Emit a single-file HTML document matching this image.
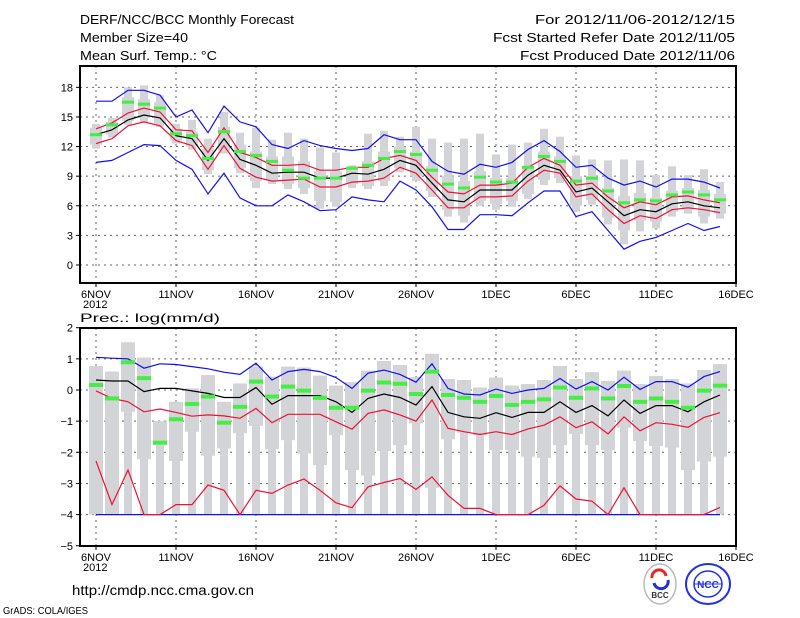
<!DOCTYPE html>
<html><head><meta charset="utf-8"><style>
html,body{margin:0;padding:0;background:#fff;}
svg{display:block;font-family:"Liberation Sans",sans-serif;}
</style></head><body>
<svg id="chart" width="800" height="618" viewBox="0 0 800 618" xmlns="http://www.w3.org/2000/svg">
<rect width="800" height="618" fill="#fff"/>
<g font-size="13" fill="#000">
<text x="80" y="24" textLength="214" lengthAdjust="spacingAndGlyphs">DERF/NCC/BCC Monthly Forecast</text>
<text x="80" y="42" textLength="108" lengthAdjust="spacingAndGlyphs">Member Size=40</text>
<text x="80" y="60" textLength="137" lengthAdjust="spacingAndGlyphs">Mean Surf. Temp.: °C</text>
<text x="535" y="24" textLength="200" lengthAdjust="spacingAndGlyphs">For 2012/11/06-2012/12/15</text>
<text x="493" y="42" textLength="242" lengthAdjust="spacingAndGlyphs">Fcst Started Refer Date 2012/11/05</text>
<text x="520" y="60" textLength="215" lengthAdjust="spacingAndGlyphs">Fcst Produced Date 2012/11/06</text>
<text x="80" y="322" font-size="12" textLength="140" lengthAdjust="spacingAndGlyphs">Prec.: log(mm/d)</text>
<text x="72" y="595" font-size="14" textLength="182" lengthAdjust="spacingAndGlyphs">http://cmdp.ncc.cma.gov.cn</text>
<text x="3" y="614" font-size="10" textLength="85" lengthAdjust="spacingAndGlyphs">GrADS: COLA/IGES</text>
</g>
<g id="top"></g>
<g id="bot"></g>
<g>
<ellipse cx="660" cy="584" rx="16" ry="20" fill="#fff" stroke="#bbb" stroke-width="1.5"/>
<path d="M652 578 a7 7 0 0 1 14 -2" fill="none" stroke="#e22" stroke-width="3"/>
<path d="M668 580 a7 7 0 0 1 -14 3" fill="none" stroke="#23c" stroke-width="3"/>
<text x="660" y="598" font-size="8" text-anchor="middle" font-weight="bold" fill="#333">BCC</text>
</g>
<g>
<ellipse cx="708" cy="584" rx="22" ry="20" fill="#fff" stroke="#23d" stroke-width="2"/>
<ellipse cx="708" cy="584" rx="14" ry="13" fill="none" stroke="#23d" stroke-width="1.5"/>
<line x1="694" y1="584" x2="722" y2="584" stroke="#23d"/>
<text x="708" y="588" font-size="10" text-anchor="middle" font-weight="bold" fill="#23d">NCC</text>
</g>
</svg>
<script>
// ---- Temperature panel data (°C) ----
const dayLabels = ["6NOV","11NOV","16NOV","21NOV","26NOV","1DEC","6DEC","11DEC","16DEC"];
const tTicks = [0,3,6,9,12,15,18];
const pTicks = [2,1,0,-1,-2,-3,-4,-5];
const tMean = [13.2,13.7,14.7,15.2,14.9,13.1,12.8,10.6,12.8,10.7,10.1,9.3,9.4,9.4,8.8,8.8,9.3,9.2,9.7,10.6,10.1,8.3,6.6,6.4,7.6,7.6,7.6,9.1,10.1,9.6,7.4,7.8,6.4,5.0,5.6,5.4,6.2,6.4,6.0,5.8];
const tRedHi = [13.8,14.4,15.4,15.9,15.5,13.7,13.6,11.4,13.9,11.4,10.9,10.1,10.1,10.2,9.6,9.6,9.9,9.9,10.8,11.1,10.6,8.9,7.4,7.2,8.1,8.1,8.3,9.9,10.8,10.1,8.1,8.3,6.9,5.8,6.4,6.1,6.9,7.0,6.6,6.3];
const tRedLo = [12.3,12.8,14.1,14.5,14.1,12.6,12.1,9.7,12.1,9.8,8.9,8.5,8.6,8.7,7.9,7.9,8.4,8.5,8.8,9.9,9.3,7.6,5.8,5.8,6.9,6.9,7.0,8.5,9.6,9.3,6.9,7.2,5.6,4.2,5.0,4.7,5.6,5.8,5.6,5.3];
const tBlueHi = [16.6,16.6,17.7,17.7,17.2,15.0,15.7,13.4,16.1,14.5,14.0,12.2,11.8,12.6,12.1,11.8,11.6,11.8,13.2,12.7,12.7,10.5,9.5,9.2,10.2,9.9,10.4,11.7,12.6,11.5,9.9,10.1,8.8,8.1,8.5,7.9,8.7,8.7,8.4,7.8];
const tBlueLo = [10.4,10.6,11.4,12.2,12.1,10.6,9.7,7.2,9.3,6.8,6.0,6.0,7.1,6.4,5.5,5.6,6.9,6.6,6.4,8.5,7.6,5.9,3.6,3.6,5.1,5.1,5.0,6.3,7.5,7.5,4.9,5.4,3.5,1.6,2.4,2.8,3.5,4.2,3.5,3.9];
const tGreen = [13.2,14.2,16.5,16.3,15.9,13.3,13.1,10.8,13.5,11.5,11.1,10.5,9.6,8.8,8.8,8.8,9.8,10.1,10.8,11.5,11.2,9.6,8.2,7.8,8.9,8.4,8.4,9.9,11.0,10.5,8.5,8.8,7.5,6.3,6.6,6.5,7.1,7.4,7.1,6.6];
const tWhiskHi = [14.3,14.9,18.0,18.2,17.2,14.3,14.7,12.8,15.5,13.4,13.9,12.7,13.4,12.8,11.9,11.4,10.1,13.3,13.6,13.0,14.0,12.8,12.4,12.8,13.3,11.2,12.2,12.4,13.8,13.0,11.1,10.7,10.6,10.7,10.6,9.1,10.0,9.1,9.7,8.4];
const tWhiskLo = [11.8,12.9,14.2,14.5,14.0,12.3,11.7,9.2,11.3,9.3,7.8,8.2,7.7,7.2,5.7,5.9,7.8,7.7,8.0,9.4,8.5,6.9,4.9,4.3,6.0,5.6,5.9,6.7,8.1,8.3,5.4,6.1,4.1,2.1,3.4,3.7,4.9,5.2,4.2,4.7];
const tBoxHi = [13.9,14.5,17.0,16.8,16.5,13.8,13.5,11.8,14.0,12.2,11.5,11.0,11.0,10.5,9.5,9.5,9.9,10.5,11.5,12.0,11.5,10.0,9.0,8.5,9.5,8.8,8.8,10.0,11.5,11.0,9.0,9.0,7.8,7.0,7.3,6.8,7.5,7.8,7.6,7.2];
const tBoxLo = [12.2,13.2,14.6,14.9,14.3,12.6,12.0,9.6,11.6,9.8,8.5,8.6,8.2,7.8,6.5,6.4,8.2,8.0,8.5,9.8,9.0,7.5,5.6,5.0,6.5,6.2,6.5,7.2,8.6,8.8,6.0,6.6,4.8,3.5,4.5,4.4,5.4,5.6,4.9,5.2];
// ---- Precipitation panel data (log mm/d) ----
const pMean = [0.32,0.29,0.29,-0.05,0.05,0.05,-0.03,-0.11,-0.24,-0.24,0.08,-0.46,-0.18,-0.18,-0.18,-0.38,-0.72,-0.27,-0.13,-0.24,-0.48,0.11,-0.72,-0.86,-0.91,-0.73,-0.88,-0.72,-0.72,-0.38,-0.72,-0.50,-0.83,-0.32,-0.75,-0.50,-0.50,-0.70,-0.38,-0.16];
const pRedHi = [-0.03,-0.27,-0.38,-0.70,-0.61,-0.72,-0.84,-0.80,-0.83,-0.91,-0.59,-1.05,-0.78,-0.78,-0.78,-1.02,-1.26,-0.75,-0.64,-0.80,-1.0,-0.32,-1.23,-1.34,-1.43,-1.34,-1.43,-1.25,-1.13,-0.86,-1.21,-1.02,-1.41,-0.86,-1.31,-1.05,-1.10,-1.20,-0.88,-0.73];
const pRedLo = [-2.28,-3.68,-2.57,-4.0,-4.0,-3.68,-3.68,-3.05,-3.22,-4.0,-3.22,-3.32,-3.05,-2.86,-3.22,-3.62,-3.78,-3.11,-2.97,-2.84,-3.19,-2.79,-3.38,-3.8,-3.8,-4.0,-4.0,-4.0,-3.7,-3.08,-3.5,-3.57,-4.0,-3.14,-4.0,-4.0,-4.0,-4.0,-4.0,-3.77];
const pBlueHi = [1.05,1.02,1.0,0.70,0.84,0.82,0.75,0.68,0.57,0.50,0.86,0.32,0.59,0.66,0.59,0.40,0.05,0.54,0.64,0.50,0.25,0.84,0.05,-0.13,-0.16,0.03,-0.11,0.0,0.05,0.37,0.03,0.27,0.0,0.41,0.02,0.27,0.27,0.09,0.43,0.59];
const pBlueLo = [-4,-4,-4,-4,-4,-4,-4,-4,-4,-4,-4,-4,-4,-4,-4,-4,-4,-4,-4,-4,-4,-4,-4,-4,-4,-4,-4,-4,-4,-4,-4,-4,-4,-4,-4,-4,-4,-4,-4,-4];
const pGreen = [0.16,-0.27,0.89,0.38,-1.69,-0.94,-0.45,-0.21,-1.05,-0.54,0.27,-0.21,0.11,-0.02,-0.25,-0.57,-0.57,-0.02,0.24,0.20,-0.13,0.59,-0.16,-0.25,-0.38,-0.19,-0.48,-0.38,-0.30,0.08,-0.25,0.05,-0.27,0.13,-0.38,-0.27,-0.38,-0.57,-0.02,0.14];
const pWhiskHi = [0.77,0.59,1.53,1.04,-1.0,-0.38,0.05,0.48,-0.38,0.21,0.75,0.43,0.75,0.72,0.46,0.14,0.25,0.62,0.93,0.80,0.41,1.16,0.35,0.32,0.08,0.40,0.14,0.19,0.32,0.77,0.35,0.57,0.29,0.62,0.19,0.45,0.35,0.21,0.64,0.83];
const pWhiskLo = [-4,-4,-4,-4,-4,-4,-4,-4,-4,-4,-4,-4,-4,-4,-4,-4,-4,-4,-4,-4,-4,-4,-4,-4,-4,-4,-4,-4,-4,-4,-4,-4,-4,-4,-4,-4,-4,-4,-4,-4];
const pBoxLo = [-4,-4,-0.70,-2.22,-1.77,-2.28,-1.34,-2.11,-1.88,-1.39,-1.15,-1.90,-1.61,-2.04,-2.41,-1.45,-2.57,-2.75,-1.96,-1.77,-1.07,-3.14,-1.58,-1.37,-1.45,-1.93,-1.93,-2.14,-2.18,-1.77,-1.41,-1.77,-1.93,-1.21,-1.64,-1.80,-1.85,-2.57,-2.30,-2.14];

const NS="http://www.w3.org/2000/svg";
const X0=96, DX=16;
function xDay(i){return X0+DX*i;}
function yT(v){return 265-v*9.87;}
function yP(v){return 390-v*31.15;}
function mk(parent,tag,attrs){const e=document.createElementNS(NS,tag);for(const k in attrs)e.setAttribute(k,attrs[k]);parent.appendChild(e);return e;}
function polyline(parent,vals,yf,color,name){
  const pts=vals.map((v,i)=>xDay(i)+","+yf(v).toFixed(1)).join(" ");
  const e=mk(parent,"polyline",{points:pts,fill:"none",stroke:color,"stroke-width":"1.2"});
  
  
}
function panel(g,top,bottom,ticks,yf){
  ticks.forEach(t=>{const y=yf(t); if(y>top+2&&y<bottom-2){const l=mk(g,"line",{x1:80,x2:736,y1:y,y2:y,stroke:"#666","stroke-dasharray":"2,4","stroke-width":"1"});
    
    }
    const tk=mk(g,"line",{x1:76,x2:80,y1:y,y2:y,stroke:"#000"});
    
    
    const tx=mk(g,"text",{x:73,y:y+4,"font-size":"11","text-anchor":"end"});tx.textContent=(t<0?"\u2212"+(-t):t);
    
    
  });
  dayLabels.forEach((d,k)=>{const x=xDay(k*5);
    if(k<8){const l=mk(g,"line",{x1:x,x2:x,y1:top,y2:bottom,stroke:"#666","stroke-dasharray":"2,4","stroke-width":"1"});
      
      }
    const tk=mk(g,"line",{x1:x,x2:x,y1:bottom,y2:bottom+4,stroke:"#000"});
    
    
    const tx=mk(g,"text",{x:x,y:bottom+15,"font-size":"11","text-anchor":"middle"});tx.textContent=d;
    
    
  });
  const yr=mk(g,"text",{x:83,y:bottom+25,"font-size":"11"});yr.textContent="2012";
  
  
}
function frame(g,top,bottom){
  const r=mk(g,"rect",{x:80,y:top,width:656,height:bottom-top,fill:"none",stroke:"#000","stroke-width":"2"});
  
  
}
const gt=document.getElementById("top");
panel(gt,66,283,tTicks,yT);
tWhiskHi.forEach((v,i)=>{const x=xDay(i);
  const w=mk(gt,"rect",{x:x-4,y:yT(v),width:8,height:yT(tWhiskLo[i])-yT(v),fill:"#d3d4d8"});
  
  
  const b=mk(gt,"rect",{x:x-6,y:yT(tBoxHi[i]),width:12,height:yT(tBoxLo[i])-yT(tBoxHi[i]),fill:"#d3d4d8"});
  
  
});
polyline(gt,tBlueHi,yT,"#1010ee","blue-upper-line");
polyline(gt,tBlueLo,yT,"#1010ee","blue-lower-line");
polyline(gt,tRedHi,yT,"#ee1133","red-upper-line");
polyline(gt,tRedLo,yT,"#ee1133","red-lower-line");
polyline(gt,tMean,yT,"#000","ensemble-mean-line");
tGreen.forEach((v,i)=>{const r=mk(gt,"rect",{x:xDay(i)-6,y:yT(v)-1.5,width:12,height:3,fill:"#44ee44"});
  
  });
frame(gt,66,283);
const gb=document.getElementById("bot");
panel(gb,328,546,pTicks,yP);
pWhiskHi.forEach((v,i)=>{const x=xDay(i);
  const w=mk(gb,"rect",{x:x-4,y:yP(v),width:8,height:yP(pWhiskLo[i])-yP(v),fill:"#d3d4d8"});
  
  
  const b=mk(gb,"rect",{x:x-7,y:yP(v),width:14,height:yP(pBoxLo[i])-yP(v),fill:"#d3d4d8"});
  
  
});
polyline(gb,pBlueHi,yP,"#1010ee","blue-upper-line");
polyline(gb,pBlueLo,yP,"#1010ee","blue-lower-line");
polyline(gb,pRedHi,yP,"#ee1133","red-upper-line");
polyline(gb,pRedLo,yP,"#ee1133","red-lower-line");
polyline(gb,pMean,yP,"#000","ensemble-mean-line");
pGreen.forEach((v,i)=>{const r=mk(gb,"rect",{x:xDay(i)-7,y:yP(v)-2,width:14,height:4,fill:"#44ee44"});
  
  });
frame(gb,328,546);
</script>
</body></html>
